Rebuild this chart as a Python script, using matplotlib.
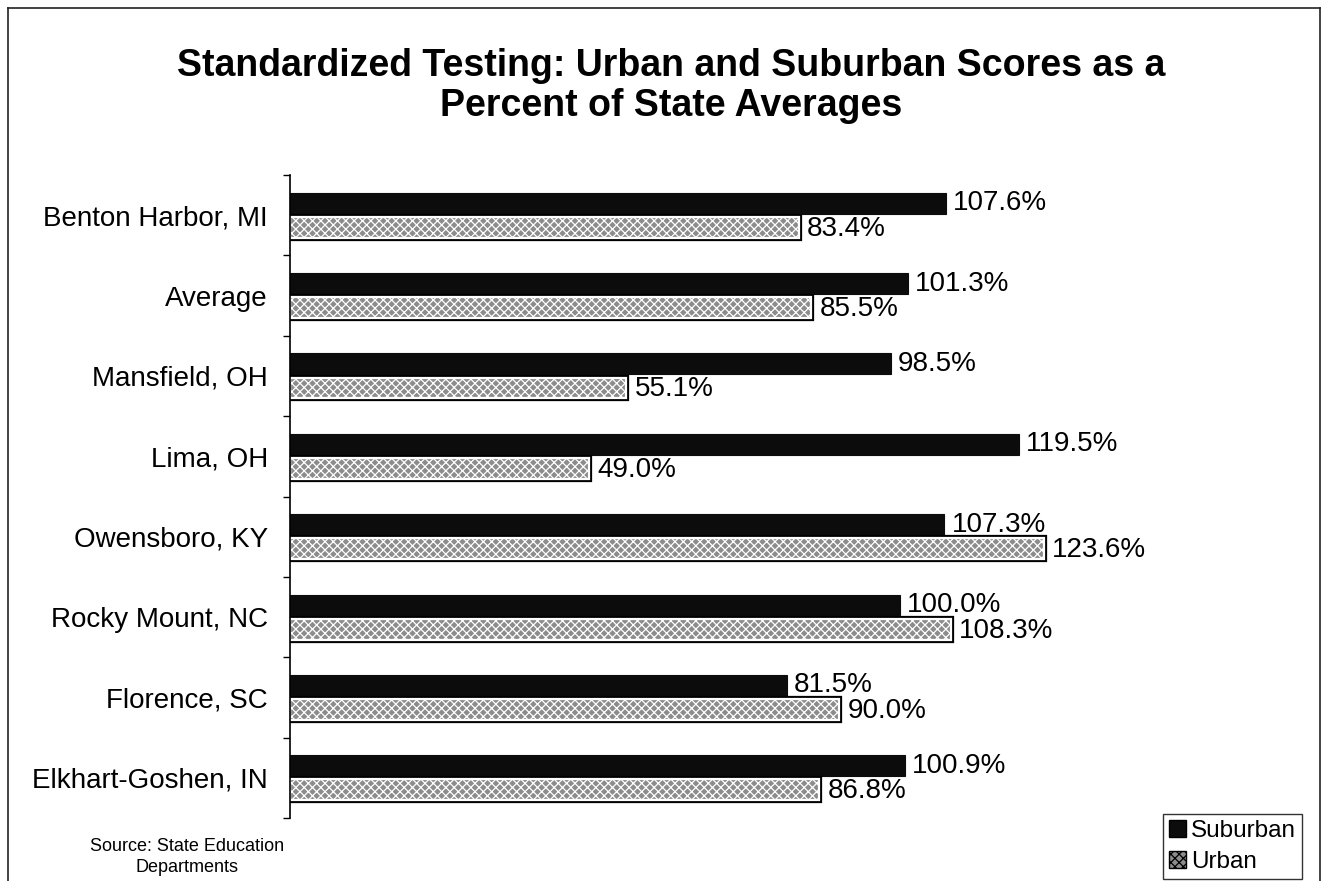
import matplotlib
matplotlib.use("Agg")
import matplotlib.pyplot as plt
import matplotlib.patheffects as pe
from matplotlib.lines import Line2D
import numpy as np

plt.rcParams['font.family'] = ['Liberation Sans', 'DejaVu Sans']
plt.rcParams['hatch.color'] = '#3a3a3a'
plt.rcParams['hatch.linewidth'] = 0.9

categories = ["Benton Harbor, MI", "Average", "Mansfield, OH", "Lima, OH",
              "Owensboro, KY", "Rocky Mount, NC", "Florence, SC", "Elkhart-Goshen, IN"]
suburban = [107.6, 101.3, 98.5, 119.5, 107.3, 100.0, 81.5, 100.9]
urban = [83.4, 85.5, 55.1, 49.0, 123.6, 108.3, 90.0, 86.8]
title = "Standardized Testing: Urban and Suburban Scores as a\nPercent of State Averages"
source = "Source: State Education\nDepartments"

W, H = 1327, 881
fig = plt.figure(figsize=(W / 100, H / 100), dpi=100)
ax = fig.add_axes([290 / W, 1 - 818 / H, (1150 - 290) / W, (818 - 175) / H])

y = np.arange(len(categories))
bh = 0.26
ax.barh(y - 0.15, suburban, height=bh, color='#0c0c0c', edgecolor='#0c0c0c', linewidth=0.8)
ub = ax.barh(y + 0.15, urban, height=bh, color='#8c8c8c', edgecolor='white',
             linewidth=1.6, hatch='xxxx')
for p in ub:
    p.set_path_effects([pe.Stroke(linewidth=4.5, foreground='black'), pe.Normal()])

for yi, v in zip(y, suburban):
    ax.annotate(f"{v:.1f}%", (v, yi - 0.15), xytext=(5, 0), textcoords='offset points',
                ha='left', va='center', fontsize=20)
for yi, v in zip(y, urban):
    ax.annotate(f"{v:.1f}%", (v, yi + 0.15), xytext=(6, -1), textcoords='offset points',
                ha='left', va='center', fontsize=20)

ax.set_xlim(0, 141)
ax.set_ylim(len(categories) - 0.5, -0.5)
ax.set_yticks(np.arange(len(categories) + 1) - 0.5)
ax.set_yticklabels([])
ax.set_yticks(y, minor=True)
ax.set_yticklabels(categories, minor=True, fontsize=20)
ax.tick_params(axis='y', which='major', direction='out', length=5, width=1, color='black')
ax.tick_params(axis='y', which='minor', length=0, pad=16)
ax.set_xticks([])
for s in ['top', 'right', 'bottom']:
    ax.spines[s].set_visible(False)
ax.spines['left'].set_linewidth(1.2)
ax.set_facecolor('none')

fig.text(671 / W, 1 - 86 / H, title, ha='center', va='center', fontsize=27,
         fontweight='bold', linespacing=1.12)
fig.text(187 / W, 1 - 857 / H, source, ha='center', va='center', fontsize=13,
         linespacing=1.25)

leg = fig.legend(handles=[
    plt.Rectangle((0, 0), 1, 1, facecolor='#0c0c0c', edgecolor='black'),
    plt.Rectangle((0, 0), 1, 1, facecolor='#8c8c8c', edgecolor='black', hatch='xxxx')],
    labels=['Suburban', 'Urban'], loc='upper left',
    bbox_to_anchor=(1163 / W, 1 - 814 / H), fontsize=17.5, frameon=True,
    fancybox=False, handlelength=0.7, handleheight=0.7, handletextpad=0.2,
    borderpad=0.25, labelspacing=0.35, borderaxespad=0)
leg.get_frame().set_edgecolor('black')
leg.get_frame().set_linewidth(1.0)

# outer chart border
bx0, bx1, by0 = 8 / W, 1320 / W, 1 - 8 / H
for xs, ys in [([bx0, bx0], [0, by0]), ([bx0, bx1], [by0, by0]), ([bx1, bx1], [by0, 0])]:
    fig.add_artist(Line2D(xs, ys, color='#222222', linewidth=1.2, transform=fig.transFigure))

fig.savefig("out.png", dpi=100)
